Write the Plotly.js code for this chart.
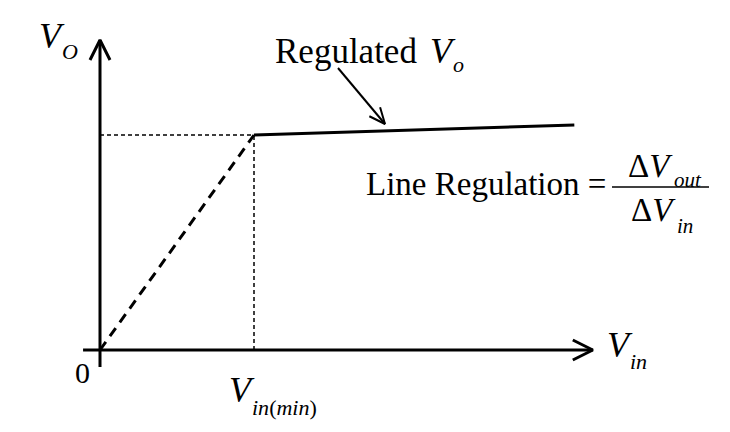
<!DOCTYPE html>
<html>
<head>
<meta charset="utf-8">
<script src="https://cdn.plot.ly/plotly-3.0.1.min.js"></script>
<style>html,body{margin:0;padding:0;background:#fff}#chart{width:730px;height:432px}</style>
</head>
<body>
<div id="chart"></div>
<script>
// ---- data (schematic units: Vin(min) = 1, regulated Vo = 1) ----
const vinMin = 1;
const voReg = 1;
const rampX = [0, vinMin];
const rampY = [0, voReg];
const regulatedX = [vinMin, 3.08];
const regulatedY = [voReg, 1.047];
const xAxisSpan = [-0.11, 3.2];
const yAxisSpan = [-0.079, 1.442];
const tickLabels = ["0", "<i>V</i>", "<i>in</i>(<i>min</i>)"];
const yLabel = ["<i>V</i>", "<i>O</i>"];
const xLabel = ["<i>V</i>", "<i>in</i>"];
const curveLabel = ["Regulated", "<i>V</i>", "<i>o</i>"];
const formulaLabel = "Line Regulation =";
const fracNum = ["Δ<i>V</i>", "<i>out</i>"];
const fracDen = ["Δ<i>V</i>", "<i>in</i>"];

// ---- scales (pixels per unit, origin pixel) ----
const W = 730, H = 432;
const ox = 100, oy = 350, sx = 154, sy = 215;
const xr = [-ox / sx, (W - ox) / sx];
const yr = [-(H - oy) / sy, oy / sy];
const X = px => (px - ox) / sx;
const Y = py => (oy - py) / sy;
const toPx = (x, y) => [ox + x * sx, oy - y * sy];

function chevron(tip, tail, len, half) {
  const [tx, ty] = toPx(tip[0], tip[1]);
  const [bx, by] = toPx(tail[0], tail[1]);
  let dx = tx - bx, dy = ty - by;
  const n = Math.hypot(dx, dy); dx /= n; dy /= n;
  const px = -dy, py = dx;
  const a = [tx - dx * len + px * half, ty - dy * len + py * half];
  const b = [tx - dx * len - px * half, ty - dy * len - py * half];
  return {x: [X(a[0]), X(tx), X(b[0])], y: [Y(a[1]), Y(ty), Y(b[1])]};
}

const black = '#000';
const traces = [];
function line(x, y, w, dash) {
  traces.push({type: 'scatter', mode: 'lines', x: x, y: y, hoverinfo: 'skip', showlegend: false,
    line: {color: black, width: w, dash: dash || 'solid'}});
}
// axes
line([xAxisSpan[0], xAxisSpan[1]], [0, 0], 3);
line([0, 0], [yAxisSpan[0], yAxisSpan[1]], 3);
let c = chevron([xAxisSpan[1], 0], [0, 0], 20, 10); line(c.x, c.y, 3);
c = chevron([0, yAxisSpan[1]], [0, 0], 20, 10); line(c.x, c.y, 3);
// guides
line([0, vinMin], [voReg, voReg], 1.5, '4px,3px');
line([vinMin, vinMin], [0, voReg], 1.5, '4px,3px');
// ramp
line(rampX, rampY, 3, '10px,7px');
// regulated
line(regulatedX, regulatedY, 3);
// pointer arrow
const ptrTail = [X(338), Y(68)];
const ptrTip = [X(385), Y(124)];
line([ptrTail[0], ptrTip[0]], [ptrTail[1], ptrTip[1]], 2);
c = chevron(ptrTip, ptrTail, 16, 7); line(c.x, c.y, 2);

const fam = 'Liberation Serif, Times New Roman, serif';
function txt(text, px, py, size, xa, ya) {
  return {text: text, x: X(px), y: Y(py), xref: 'x', yref: 'y', showarrow: false, borderpad: 0,
    xanchor: xa || 'left', yanchor: ya || 'middle', font: {family: fam, size: size, color: black}};
}
const annotations = [
  txt(yLabel[0], 38, 36, 36), txt(yLabel[1], 61, 51, 22),
  txt(xLabel[0], 606, 345, 36), txt(xLabel[1], 629, 361, 22),
  txt(tickLabels[0], 91, 372, 30, 'right'),
  txt(tickLabels[1], 228, 390, 36), txt(tickLabels[2], 251, 407, 22),
  txt(curveLabel[0], 274, 51, 35), txt(curveLabel[1], 429, 51, 36), txt(curveLabel[2], 452, 64, 22),
  txt(formulaLabel, 365, 184, 33),
  txt(fracNum[0], 627, 166, 33), txt(fracNum[1], 673, 180, 21),
  txt(fracDen[0], 630, 210, 33), txt(fracDen[1], 676, 226, 21)
];
const shapes = [{type: 'line', xref: 'x', yref: 'y', x0: X(612), x1: X(709), y0: Y(187), y1: Y(187),
  line: {color: black, width: 1.5}}];

const layout = {
  width: W, height: H, margin: {l: 0, r: 0, t: 0, b: 0},
  paper_bgcolor: '#fff', plot_bgcolor: '#fff', showlegend: false,
  xaxis: {range: xr, visible: false, fixedrange: true},
  yaxis: {range: yr, visible: false, fixedrange: true},
  annotations: annotations, shapes: shapes
};
Plotly.newPlot('chart', traces, layout, {staticPlot: true, displayModeBar: false});
</script>
</body>
</html>
